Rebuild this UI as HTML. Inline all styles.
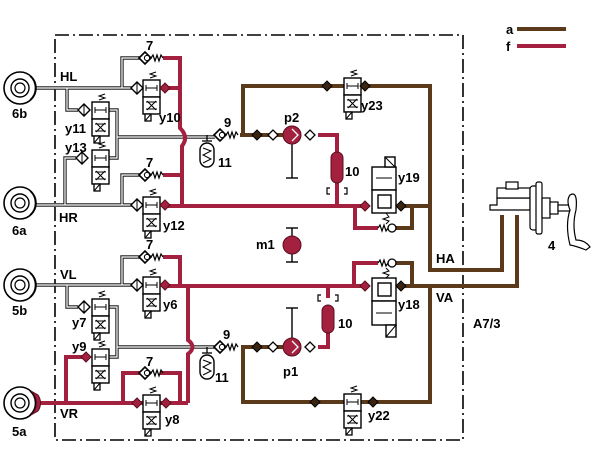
<!DOCTYPE html>
<html><head><meta charset="utf-8"><style>
html,body{margin:0;padding:0;background:#fff;}
svg{display:block;font-family:"Liberation Sans",Arial,sans-serif;font-weight:bold;}
</style></head><body>
<svg width="615" height="470" viewBox="0 0 615 470" xmlns="http://www.w3.org/2000/svg">
<defs>
<symbol id="valve" overflow="visible">
  <polyline points="7,-2 13,-4 7,-6 13,-8" fill="none" stroke="#000" stroke-width="1"/>
  <rect x="0" y="0" width="17" height="17" fill="#fff" stroke="#000" stroke-width="1.4"/>
  <rect x="0" y="17" width="17" height="17" fill="#fff" stroke="#000" stroke-width="1.4"/>
  <line x1="3" y1="8" x2="14" y2="8" stroke="#000" stroke-width="1"/>
  <line x1="3" y1="5" x2="3" y2="11" stroke="#000" stroke-width="1"/>
  <line x1="14" y1="5" x2="14" y2="11" stroke="#000" stroke-width="1"/>
  <path d="M4,21 L13,30 M13,21 L4,30 M3,22 H14 M3,29 H14" stroke="#000" stroke-width="1" fill="none"/>
  <rect x="2" y="34" width="6" height="7" fill="#fff" stroke="#000" stroke-width="1.3"/>
  <line x1="2" y1="41" x2="8" y2="34" stroke="#000" stroke-width="1"/>
</symbol>
<symbol id="chk" overflow="visible">
  <polygon points="-6,0 0,-6 6,0 0,6" fill="#fff" stroke="#000" stroke-width="1.6"/>
  <circle cx="2" cy="0" r="2.6" fill="#fff" stroke="#000" stroke-width="1"/>
  <polyline points="6,0 8,-3 10,3 12,-3 14,3 16,-3 18,0" fill="none" stroke="#000" stroke-width="1.2"/>
</symbol>
<symbol id="dk" overflow="visible">
  <polygon points="-5,0 0,-5 5,0 0,5" fill="#3a2410" stroke="#000" stroke-width="1"/>
</symbol>
<symbol id="dr" overflow="visible">
  <polygon points="-5,0 0,-5 5,0 0,5" fill="#a3203f" stroke="#5a0e1e" stroke-width="1"/>
</symbol>
<symbol id="dw" overflow="visible">
  <polygon points="-5,0 0,-5 5,0 0,5" fill="#fff" stroke="#000" stroke-width="1.3"/>
</symbol>
<symbol id="dwc" overflow="visible">
  <polygon points="-6,0 0,-6 6,0 0,6" fill="#fff" stroke="#000" stroke-width="1.4"/>
  <line x1="0" y1="-5" x2="0" y2="5" stroke="#000" stroke-width="1"/>
</symbol>
<symbol id="brake" overflow="visible">
  <circle cx="0" cy="0" r="16" fill="#fff" stroke="#000" stroke-width="1.6"/>
  <circle cx="0" cy="0" r="9" fill="#fff" stroke="#000" stroke-width="1.4"/>
  <circle cx="0" cy="0" r="5" fill="#fff" stroke="#000" stroke-width="1.2"/>
  <path d="M10,-12 A16,16 0 0 1 10,12" fill="none" stroke="#000" stroke-width="1.4"/>
</symbol>
<symbol id="acc" overflow="visible">
  <line x1="0" y1="-10" x2="0" y2="-4" stroke="#000" stroke-width="1.3"/>
  <line x1="-5" y1="-4" x2="5" y2="-4" stroke="#000" stroke-width="1.3"/>
  <rect x="-7" y="-2" width="14" height="24" rx="7" fill="#fff" stroke="#000" stroke-width="1.4"/>
  <polyline points="-4,3 4,6 -4,10 4,14 -4,18" fill="none" stroke="#000" stroke-width="1"/>
</symbol>
</defs>

<path d="M55,35 H463 V440 H55 Z" fill="none" stroke="#000" stroke-width="1.6" stroke-dasharray="14,4,2,4"/>

<text x="506" y="34" font-size="13">a</text>
<line x1="517" y1="29" x2="566" y2="29" stroke="#5b3a1c" stroke-width="4"/>
<text x="506" y="51" font-size="13">f</text>
<line x1="517" y1="46" x2="566" y2="46" stroke="#a3203f" stroke-width="4"/>

<g fill="none">
<g stroke="#222" stroke-width="3.4">
<path d="M36,88 H137 M122,88 V58 H140 M67,88 V110 H78 M107,110 H117 V158 H107 M117,137 H215 M36,205 H137 M122,205 V175 H140 M65,205 V158 H76"/>
<path d="M36,285 H137 M122,285 V257 H140 M67,285 V307 H78 M107,307 H117 V357 H107 M117,347 H215"/>
</g>
<g stroke="#fff" stroke-width="1.2">
<path d="M36,88 H137 M122,88 V58 H140 M67,88 V110 H78 M107,110 H117 V158 H107 M117,137 H215 M36,205 H137 M122,205 V175 H140 M65,205 V158 H76"/>
<path d="M36,285 H137 M122,285 V257 H140 M67,285 V307 H78 M107,307 H117 V357 H107 M117,347 H215"/>
</g>
</g>

<g fill="none" stroke="#a3203f" stroke-width="4">
<path d="M163,58 H180 V128 Q189,137 182,146 V206"/>
<path d="M165,88 H180"/>
<path d="M163,175 H182"/>
<path d="M165,206 H365"/>
<path d="M318,135 H337 V206"/>
<path d="M355,206 V228 H378"/>
<path d="M163,257 H180 V286"/>
<path d="M165,286 H365"/>
<path d="M188,286 V340 Q197,347 188,354 V403"/>
<path d="M354,286 V263 H378"/>
<path d="M318,347 H328 V332"/>
<path d="M328,298 V286"/>
<path d="M35,403 H188"/>
<path d="M123,403 V373 H140 M160,373 H180 V403"/>
<path d="M86,357 H66 V403"/>
</g>

<g fill="none" stroke="#5b3a1c" stroke-width="4">
<path d="M240,135 H285 M243,135 V86 H430 V270 H502 V215"/>
<path d="M400,206 H430 M412,206 V228 H396"/>
<path d="M400,286 H517 V215 M412,286 V263 H396"/>
<path d="M430,286 V402 H243 V347 H285"/>
</g>

<use href="#brake" x="20" y="88"/>
<use href="#brake" x="20" y="203"/>
<use href="#brake" x="20" y="285"/>
<use href="#brake" x="20" y="403"/>
<path d="M31,391 A16,16 0 0 1 31,415 L38,411 A14,14 0 0 0 38,395 Z" fill="#a3203f" stroke="#5a0e1e" stroke-width="1"/>

<use href="#valve" x="143" y="80"/>
<use href="#valve" x="92" y="102"/>
<use href="#valve" x="92" y="150"/>
<use href="#valve" x="143" y="197"/>
<use href="#valve" x="143" y="277"/>
<use href="#valve" x="92" y="299"/>
<use href="#valve" x="92" y="349"/>
<use href="#valve" x="143" y="395"/>
<use href="#valve" x="344" y="78"/>
<use href="#valve" x="344" y="394"/>

<use href="#chk" x="145" y="58"/>
<use href="#chk" x="145" y="175"/>
<use href="#chk" x="145" y="257"/>
<use href="#chk" x="145" y="373"/>
<use href="#chk" x="220" y="135"/>
<use href="#chk" x="220" y="347"/>
<use href="#dwc" x="137" y="88"/>
<use href="#dwc" x="84" y="110"/>
<use href="#dwc" x="82" y="158"/>
<use href="#dwc" x="137" y="205"/>
<use href="#dwc" x="137" y="285"/>
<use href="#dwc" x="84" y="307"/>
<use href="#dr" x="165" y="88"/>
<use href="#dr" x="165" y="205"/>
<use href="#dr" x="165" y="285"/>
<use href="#dr" x="86" y="357"/>
<use href="#dr" x="137" y="403"/>
<use href="#dr" x="166" y="403"/>
<use href="#dr" x="365" y="206"/>
<use href="#dr" x="365" y="286"/>
<use href="#dk" x="257" y="135"/>
<use href="#dk" x="327" y="86"/>
<use href="#dk" x="365" y="86"/>
<use href="#dk" x="401" y="206"/>
<use href="#dk" x="401" y="286"/>
<use href="#dk" x="257" y="347"/>
<use href="#dk" x="315" y="402"/>
<use href="#dk" x="373" y="402"/>
<use href="#dw" x="273" y="135"/>
<use href="#dw" x="310" y="135"/>
<use href="#dw" x="273" y="347"/>
<use href="#dw" x="310" y="347"/>
<polyline points="378,228 380,225 382,231 384,225 386,231 388,228" fill="none" stroke="#000" stroke-width="1.2"/>
<circle cx="392" cy="228" r="4" fill="#fff" stroke="#000" stroke-width="1.3"/>
<polyline points="378,263 380,260 382,266 384,260 386,266 388,263" fill="none" stroke="#000" stroke-width="1.2"/>
<circle cx="392" cy="263" r="4" fill="#fff" stroke="#000" stroke-width="1.3"/>

<g fill="#fff" stroke="#000" stroke-width="1.4">
<rect x="372" y="167" width="24" height="23"/>
<rect x="372" y="190" width="24" height="23"/>
<rect x="385" y="157" width="10" height="10"/>
<rect x="378" y="195" width="13" height="13"/>
<rect x="372" y="278" width="24" height="23"/>
<rect x="372" y="301" width="24" height="24"/>
<rect x="386" y="325" width="10" height="12"/>
<rect x="378" y="283" width="13" height="13"/>
</g>
<path d="M376,178 H392 M376,313 H392 M385,157 L395,167 M386,337 L396,325 M386,213 l3,4 l-6,2 l6,2 l-3,3 M386,278 l3,-3 l-6,-2 l6,-2 l-3,-3" stroke="#000" stroke-width="1" fill="none"/>

<g stroke="#000" stroke-width="1.4">
<line x1="292" y1="144" x2="292" y2="178"/><line x1="286" y1="178" x2="298" y2="178"/>
<line x1="292" y1="338" x2="292" y2="308"/><line x1="286" y1="308" x2="298" y2="308"/>
<line x1="292" y1="228" x2="292" y2="262"/><line x1="286" y1="228" x2="298" y2="228"/><line x1="286" y1="262" x2="298" y2="262"/>
</g>
<circle cx="292" cy="135" r="9" fill="#a3203f" stroke="#5a0e1e"/>
<path d="M292,129 L298,135 L292,141" fill="none" stroke="#fff" stroke-width="1.3"/>
<circle cx="292" cy="347" r="9" fill="#a3203f" stroke="#5a0e1e"/>
<path d="M292,341 L298,347 L292,353" fill="none" stroke="#fff" stroke-width="1.3"/>
<circle cx="292" cy="245" r="9" fill="#a3203f" stroke="#5a0e1e"/>

<rect x="331" y="152" width="12" height="31" rx="6" fill="#a3203f" stroke="#5a0e1e"/>
<path d="M330,188 h-3 v6 h3 M344,188 h3 v6 h-3" fill="none" stroke="#000" stroke-width="1.2"/>
<rect x="322" y="305" width="12" height="28" rx="6" fill="#a3203f" stroke="#5a0e1e"/>
<path d="M321,295 h-3 v6 h3 M335,295 h3 v6 h-3" fill="none" stroke="#000" stroke-width="1.2"/>

<use href="#acc" x="207" y="145"/>
<use href="#acc" x="207" y="357"/>

<g fill="#fff" stroke="#000" stroke-width="1.2">
<path d="M490,210 H530 V198 H497 V205 H490 Z"/>
<rect x="497" y="188" width="33" height="10"/>
<rect x="506" y="182" width="12" height="7"/>
<rect x="530" y="186" width="8" height="44" rx="3"/>
<rect x="536" y="182" width="6" height="52" rx="2"/>
<rect x="542" y="198" width="8" height="20"/>
<rect x="550" y="202" width="8" height="12"/>
<rect x="558" y="205" width="12" height="6"/>
<path d="M570,195 Q578,190 576,210 Q572,225 576,240 Q585,240 590,247 L586,250 Q576,246 570,245 Q565,225 570,210 Q566,200 570,195 Z"/>
</g>

<g font-size="13" fill="#000">
<text x="60" y="81">HL</text>
<text x="59" y="222">HR</text>
<text x="60" y="279">VL</text>
<text x="60" y="418">VR</text>
<text x="12" y="118">6b</text>
<text x="12" y="235">6a</text>
<text x="12" y="315">5b</text>
<text x="12" y="436">5a</text>
<text x="146" y="50">7</text>
<text x="146" y="167">7</text>
<text x="146" y="249">7</text>
<text x="146" y="366">7</text>
<text x="159" y="122">y10</text>
<text x="65" y="133">y11</text>
<text x="65" y="152">y13</text>
<text x="163" y="230">y12</text>
<text x="163" y="309">y6</text>
<text x="72" y="327">y7</text>
<text x="72" y="351">y9</text>
<text x="165" y="424">y8</text>
<text x="361" y="110">y23</text>
<text x="398" y="182">y19</text>
<text x="398" y="309">y18</text>
<text x="368" y="420">y22</text>
<text x="224" y="127">9</text>
<text x="223" y="339">9</text>
<text x="218" y="167">11</text>
<text x="215" y="382">11</text>
<text x="345" y="176">10</text>
<text x="338" y="328">10</text>
<text x="284" y="122">p2</text>
<text x="283" y="376">p1</text>
<text x="256" y="249">m1</text>
<text x="436" y="263">HA</text>
<text x="436" y="302">VA</text>
<text x="473" y="328">A7/3</text>
<text x="548" y="250">4</text>
</g>
</svg>
</body></html>
